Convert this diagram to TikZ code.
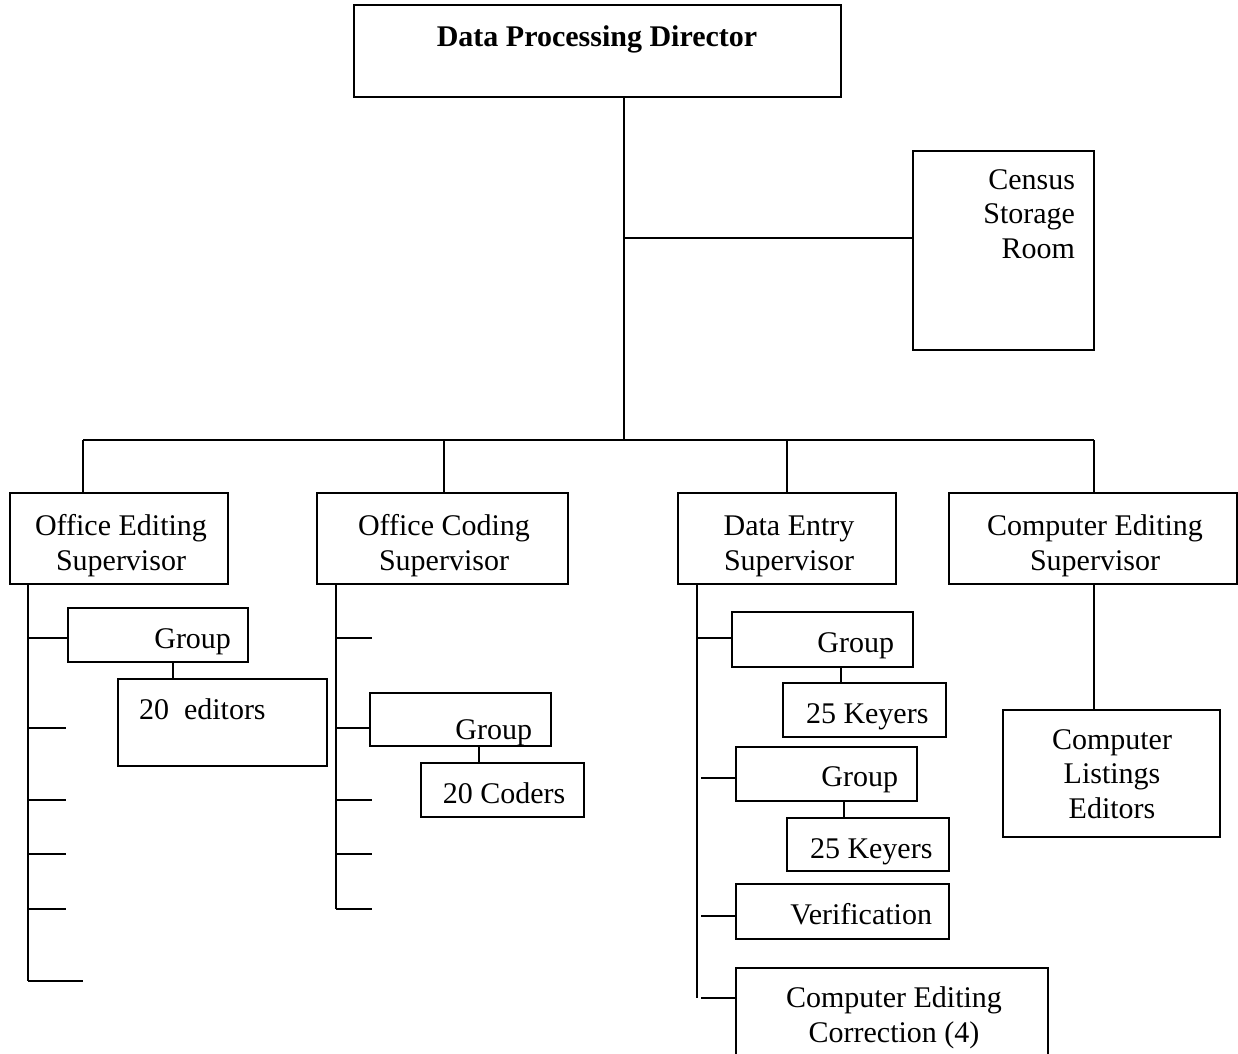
\documentclass[tikz,border=0pt]{standalone}
\usepackage{fontspec}
\setmainfont{Liberation Serif}
\begin{document}
\begin{tikzpicture}[x=1pt,y=-1pt,
  box/.style={draw=black,line width=2pt,inner sep=0pt,outer sep=0pt,anchor=north west},
  txt/.style={inner sep=0pt,outer sep=0pt,font=\fontsize{30}{34.5}\selectfont},
  conn/.style={draw=black,line width=2pt}]
\useasboundingbox (0,0) rectangle (1238,1053);
\clip (0,0) rectangle (1238,1053);
\fill[white] (0,0) rectangle (1238,1053);

% boxes
\node[box,minimum width=487pt,minimum height=92pt]  (dir)    at (354,5)   {};
\node[box,minimum width=181pt,minimum height=199pt] (census) at (913,151) {};
\node[box,minimum width=218pt,minimum height=91pt]  (oes)    at (10,493)  {};
\node[box,minimum width=251pt,minimum height=91pt]  (ocs)    at (317,493) {};
\node[box,minimum width=218pt,minimum height=91pt]  (des)    at (678,493) {};
\node[box,minimum width=288pt,minimum height=91pt]  (ces)    at (949,493) {};
\node[box,minimum width=180pt,minimum height=54pt]  (g1)     at (68,608)  {};
\node[box,minimum width=209pt,minimum height=87pt]  (ed)     at (118,679) {};
\node[box,minimum width=181pt,minimum height=53pt]  (g2)     at (370,693) {};
\node[box,minimum width=163pt,minimum height=54pt]  (cod)    at (421,763) {};
\node[box,minimum width=181pt,minimum height=55pt]  (g3)     at (732,612) {};
\node[box,minimum width=163pt,minimum height=54pt]  (k1)     at (783,683) {};
\node[box,minimum width=181pt,minimum height=54pt]  (g4)     at (736,747) {};
\node[box,minimum width=162pt,minimum height=53pt]  (k2)     at (787,818) {};
\node[box,minimum width=213pt,minimum height=55pt]  (ver)    at (736,884) {};
\node[box,minimum width=312pt,minimum height=110pt] (cec)    at (736,968) {};
\node[box,minimum width=217pt,minimum height=127pt] (cle)    at (1003,710) {};

% texts (multi-line: anchor at the baseline of the last line)
\node[txt,anchor=base] (tdir) at (597,46) {\bfseries Data Processing Director};
\node[txt,anchor=base east,align=right] (tcensus) at (1075,258) {Census\\Storage\\Room};
\node[txt,anchor=base,align=center] (toes) at (121,570) {Office Editing\\Supervisor};
\node[txt,anchor=base,align=center] (tocs) at (444,570) {Office Coding\\Supervisor};
\node[txt,anchor=base,align=center] (tdes) at (789,570) {Data Entry\\Supervisor};
\node[txt,anchor=base,align=center] (tces) at (1095,570) {Computer Editing\\Supervisor};
\node[txt,anchor=base east] (tg1) at (231,648) {Group};
\node[txt,anchor=base west] (ted) at (139,719) {20~~editors};
\node[txt,anchor=base east] (tg2) at (532,739) {Group};
\node[txt,anchor=base] (tcod) at (504,803) {20 Coders};
\node[txt,anchor=base east] (tg3) at (894,652) {Group};
\node[txt,anchor=base west] (tk1) at (806,723) {25 Keyers};
\node[txt,anchor=base east] (tg4) at (898,786) {Group};
\node[txt,anchor=base west] (tk2) at (810,858) {25 Keyers};
\node[txt,anchor=base east] (tver) at (932,924) {Verification};
\node[txt,anchor=base,align=center] (tcec) at (894,1042) {Computer Editing\\Correction (4)};
\node[txt,anchor=base,align=center] (tcle) at (1112,818) {Computer\\Listings\\Editors};

% main trunk
\coordinate (hub) at (624,440);
\coordinate (cj)  at (624,238);
\draw[conn] (dir.south -| hub) -- (hub);
\draw[conn] (cj) -- (census.west |- cj);
\coordinate (b1) at (83,440);
\coordinate (b2) at (444,440);
\coordinate (b3) at (787,440);
\coordinate (b4) at (1094,440);
\draw[conn] (b1) -- (b4);
\draw[conn] (b1) -- (b1 |- oes.north);
\draw[conn] (b2) -- (b2 |- ocs.north);
\draw[conn] (b3) -- (b3 |- des.north);
\draw[conn] (b4) -- (b4 |- ces.north);

% office editing branch
\coordinate (oeA) at (28,584);
\coordinate (oeZ) at (28,981);
\draw[conn] (oeA) -- (oeZ);
\coordinate (oe1) at (28,638);
\coordinate (oe2) at (28,728);  \coordinate (oe2e) at (66,728);
\coordinate (oe3) at (28,800);  \coordinate (oe3e) at (66,800);
\coordinate (oe4) at (28,854);  \coordinate (oe4e) at (66,854);
\coordinate (oe5) at (28,909);  \coordinate (oe5e) at (66,909);
\coordinate (oe6e) at (83,981);
\draw[conn] (oe1) -- (oe1 -| g1.west);
\draw[conn] (oe2) -- (oe2e);
\draw[conn] (oe3) -- (oe3e);
\draw[conn] (oe4) -- (oe4e);
\draw[conn] (oe5) -- (oe5e);
\draw[conn] (oeZ) -- (oe6e);
\coordinate (x1) at (173,0);
\draw[conn] (g1.south -| x1) -- (ed.north -| x1);

% office coding branch
\coordinate (ocA) at (336,584);
\coordinate (ocZ) at (336,909);
\draw[conn] (ocA) -- (ocZ);
\coordinate (oc1) at (336,638); \coordinate (oc1e) at (372,638);
\coordinate (oc2) at (336,728);
\coordinate (oc3) at (336,800); \coordinate (oc3e) at (372,800);
\coordinate (oc4) at (336,854); \coordinate (oc4e) at (372,854);
\coordinate (oc5e) at (372,909);
\draw[conn] (oc1) -- (oc1e);
\draw[conn] (oc2) -- (oc2 -| g2.west);
\draw[conn] (oc3) -- (oc3e);
\draw[conn] (oc4) -- (oc4e);
\draw[conn] (ocZ) -- (oc5e);
\coordinate (x2) at (479,0);
\draw[conn] (g2.south -| x2) -- (cod.north -| x2);

% data entry branch
\coordinate (deA) at (697,584);
\coordinate (deZ) at (697,998);
\draw[conn] (deA) -- (deZ);
\coordinate (de1) at (697,638);
\coordinate (de2) at (701,778);
\coordinate (de3) at (701,916);
\coordinate (de4) at (701,998);
\draw[conn] (de1) -- (de1 -| g3.west);
\draw[conn] (de2) -- (de2 -| g4.west);
\draw[conn] (de3) -- (de3 -| ver.west);
\draw[conn] (de4) -- (de4 -| cec.west);
\coordinate (x3) at (841,0);
\coordinate (x4) at (844,0);
\draw[conn] (g3.south -| x3) -- (k1.north -| x3);
\draw[conn] (g4.south -| x4) -- (k2.north -| x4);

% computer editing branch
\draw[conn] (ces.south -| b4) -- (cle.north -| b4);
\end{tikzpicture}
\end{document}
